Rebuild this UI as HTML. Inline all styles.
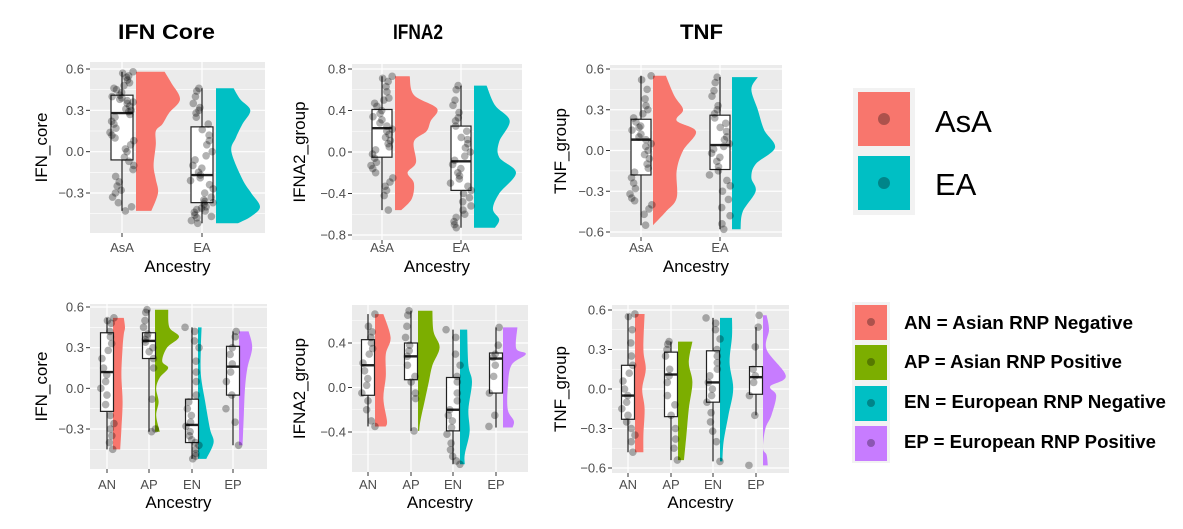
<!DOCTYPE html>
<html><head><meta charset="utf-8"><style>
html,body{margin:0;padding:0;background:#fff;}
svg{display:block;font-family:"Liberation Sans",Arial,sans-serif;}
</style></head><body>
<svg id="fig" width="1183" height="529" viewBox="0 0 1183 529" xmlns="http://www.w3.org/2000/svg">
<g font-weight="bold" font-size="21" fill="#000">
<text x="118" y="39" textLength="97" lengthAdjust="spacingAndGlyphs">IFN Core</text>
<text x="393" y="39" textLength="50" lengthAdjust="spacingAndGlyphs">IFNA2</text>
<text x="680" y="39" textLength="43" lengthAdjust="spacingAndGlyphs">TNF</text>
</g>
<g>
<rect x="853" y="88" width="62" height="127" fill="#F2F2F2"/>
<rect x="858" y="92" width="52" height="54" fill="#F8766D"/>
<circle cx="884" cy="119" r="6" fill="#000" fill-opacity="0.3"/>
<rect x="858" y="156" width="52" height="54" fill="#00BFC4"/>
<circle cx="884" cy="183" r="6" fill="#000" fill-opacity="0.3"/>
<text x="935" y="132" font-size="31">AsA</text>
<text x="935" y="195" font-size="31">EA</text>
</g>
<g font-weight="bold" font-size="18">
<rect x="852" y="302" width="38" height="161" fill="#F2F2F2"/>
<rect x="855" y="305" width="32" height="35" fill="#F8766D"/>
<circle cx="871" cy="322" r="4" fill="#000" fill-opacity="0.3"/>
<rect x="855" y="345" width="32" height="35" fill="#7CAE00"/>
<circle cx="871" cy="362" r="4" fill="#000" fill-opacity="0.3"/>
<rect x="855" y="386" width="32" height="35" fill="#00BFC4"/>
<circle cx="871" cy="403" r="4" fill="#000" fill-opacity="0.3"/>
<rect x="855" y="426" width="32" height="35" fill="#C77CFF"/>
<circle cx="871" cy="443" r="4" fill="#000" fill-opacity="0.3"/>
<text x="904" y="329" textLength="229" lengthAdjust="spacingAndGlyphs">AN = Asian RNP Negative</text>
<text x="904" y="368" textLength="218" lengthAdjust="spacingAndGlyphs">AP = Asian RNP Positive</text>
<text x="904" y="408" textLength="262" lengthAdjust="spacingAndGlyphs">EN = European RNP Negative</text>
<text x="904" y="448" textLength="252" lengthAdjust="spacingAndGlyphs">EP = European RNP Positive</text>
</g>
</svg>
<script>
// ---------- data ----------
const topCats = ["AsA","EA"];
const botCats = ["AN","AP","EN","EP"];
const topColors = ["#F8766D","#00BFC4"];
const botColors = ["#F8766D","#7CAE00","#00BFC4","#C77CFF"];

const ifnTopTicks = [0.6,0.3,0.0,-0.3];
const ifnTopTickLabels = ["0.6","0.3","0.0","\u22120.3"];
const ifnTopBoxes = [[-0.43,-0.06,0.28,0.41,0.58],[-0.52,-0.37,-0.17,0.18,0.46]];
const ifnTopViolinY = [[0.58,0.5,0.38,0.28,0.2,0.15,0.05,-0.1,-0.2,-0.3,-0.43],[0.46,0.38,0.3,0.2,0.1,0.0,-0.2,-0.3,-0.4,-0.47,-0.52]];
const ifnTopViolinW = [[0.65,0.8,1.0,0.75,0.6,0.45,0.45,0.4,0.45,0.5,0.35],[0.4,0.55,0.78,0.6,0.45,0.35,0.6,0.8,1.0,0.8,0.5]];
const ifnTopPoints = [
 [0.58,0.57,0.55,0.54,0.52,0.5,0.48,0.46,0.45,0.43,0.41,0.4,0.39,0.38,0.37,0.36,0.35,0.33,0.31,0.3,0.29,0.27,0.25,0.22,0.2,0.17,0.14,0.12,0.1,0.08,0.05,0.02,0.0,-0.04,-0.07,-0.1,-0.13,-0.18,-0.22,-0.25,-0.28,-0.3,-0.33,-0.37,-0.4,-0.43],
 [0.46,0.44,0.4,0.35,0.32,0.3,0.28,0.25,0.2,0.16,0.12,0.08,0.05,0.0,-0.03,-0.06,-0.1,-0.12,-0.15,-0.17,-0.19,-0.21,-0.24,-0.27,-0.3,-0.33,-0.35,-0.37,-0.38,-0.4,-0.42,-0.44,-0.46,-0.48,-0.5,-0.52,-0.41,-0.36,-0.43,-0.47]];

const ifnaTopTicks = [0.8,0.4,0.0,-0.4,-0.8];
const ifnaTopTickLabels = ["0.8","0.4","0.0","\u22120.4","\u22120.8"];
const ifnaTopBoxes = [[-0.56,-0.05,0.23,0.41,0.73],[-0.73,-0.37,-0.09,0.25,0.64]];
const ifnaTopViolinY = [[0.73,0.55,0.42,0.3,0.2,0.1,-0.1,-0.2,-0.3,-0.45,-0.56],[0.64,0.45,0.3,0.1,-0.05,-0.2,-0.4,-0.55,-0.65,-0.73]];
const ifnaTopViolinW = [[0.35,0.45,1.0,0.85,0.75,0.45,0.5,0.3,0.45,0.4,0.15],[0.3,0.5,0.85,0.6,0.6,1.0,0.6,0.45,0.6,0.5]];
const ifnaTopPoints = [
 [0.73,0.71,0.68,0.63,0.58,0.52,0.5,0.47,0.44,0.4,0.37,0.34,0.31,0.28,0.25,0.22,0.2,0.17,0.14,0.11,0.08,0.05,0.02,-0.02,-0.06,-0.1,-0.13,-0.16,-0.2,-0.25,-0.29,-0.33,-0.37,-0.42,-0.56],
 [0.64,0.6,0.5,0.45,0.38,0.33,0.3,0.25,0.2,0.14,0.12,0.08,0.04,0.0,-0.04,-0.08,-0.12,-0.16,-0.2,-0.23,-0.26,-0.3,-0.33,-0.37,-0.4,-0.44,-0.48,-0.52,-0.56,-0.6,-0.63,-0.67,-0.7,-0.73]];

const tnfTopTicks = [0.6,0.3,0.0,-0.3,-0.6];
const tnfTopTickLabels = ["0.6","0.3","0.0","\u22120.3","\u22120.6"];
const tnfTopBoxes = [[-0.55,-0.18,0.08,0.23,0.55],[-0.58,-0.14,0.04,0.26,0.54]];
const tnfTopViolinY = [[0.55,0.4,0.3,0.22,0.14,0.0,-0.15,-0.35,-0.45,-0.55],[0.54,0.45,0.3,0.15,0.02,-0.1,-0.2,-0.3,-0.45,-0.58]];
const tnfTopViolinW = [[0.3,0.5,0.7,0.55,1.0,0.7,0.55,0.55,0.3,0.0],[0.6,0.45,0.6,0.75,1.0,0.55,0.45,0.55,0.25,0.2]];
const tnfTopPoints = [
 [0.55,0.52,0.45,0.38,0.33,0.3,0.27,0.24,0.21,0.18,0.17,0.15,0.12,0.1,0.08,0.05,0.03,0.0,-0.03,-0.06,-0.1,-0.13,-0.16,-0.2,-0.24,-0.28,-0.32,-0.35,-0.37,-0.4,-0.43,-0.47,-0.55],
 [0.54,0.5,0.44,0.4,0.33,0.3,0.27,0.24,0.2,0.17,0.14,0.1,0.08,0.05,0.03,0.01,-0.02,-0.05,-0.08,-0.12,-0.15,-0.18,-0.22,-0.26,-0.3,-0.36,-0.42,-0.48,-0.54,-0.58]];

const ifnBotTicks = [0.6,0.3,0.0,-0.3];
const ifnBotTickLabels = ["0.6","0.3","0.0","\u22120.3"];
const ifnBotBoxes = [[-0.45,-0.17,0.12,0.41,0.52],[-0.32,0.22,0.35,0.41,0.58],[-0.52,-0.4,-0.27,-0.08,0.45],[-0.42,-0.05,0.16,0.31,0.42]];
const ifnBotViolinY = [[0.52,0.45,0.4,0.3,0.1,-0.1,-0.3,-0.45],[0.58,0.45,0.38,0.3,0.2,0.15,0.08,0.0,-0.1,-0.2,-0.32],[0.45,0.3,0.1,-0.1,-0.3,-0.4,-0.52],[0.42,0.3,0.15,0.0,-0.2,-0.42]];
const ifnBotViolinW = [[0.45,0.5,0.45,0.4,0.35,0.4,0.35,0.3],[0.55,0.6,1.0,0.5,0.3,0.55,0.2,0.05,0.15,0.05,0.2],[0.15,0.12,0.12,0.3,0.5,0.65,0.35],[0.4,0.55,0.35,0.25,0.2,0.15]];
const ifnBotPoints = [
 [0.52,0.5,0.48,0.42,0.38,0.33,0.28,0.22,0.15,0.1,0.05,0.0,-0.05,-0.12,-0.2,-0.26,-0.3,-0.35,-0.4,-0.45],
 [0.58,0.56,0.5,0.45,0.4,0.38,0.36,0.34,0.3,0.27,0.22,0.15,-0.08,-0.3,-0.32],
 [0.45,0.42,0.35,0.3,0.2,0.12,0.05,-0.05,-0.1,-0.15,-0.2,-0.25,-0.28,-0.32,-0.35,-0.38,-0.4,-0.42,-0.45,-0.48,-0.5,-0.52],
 [0.42,0.38,0.3,0.25,0.18,0.12,0.05,-0.05,-0.15,-0.25,-0.42]];

const ifnaBotTicks = [0.4,0.0,-0.4];
const ifnaBotTickLabels = ["0.4","0.0","\u22120.4"];
const ifnaBotBoxes = [[-0.35,-0.07,0.2,0.43,0.66],[-0.39,0.07,0.28,0.4,0.69],[-0.69,-0.39,-0.2,0.09,0.52],[-0.36,-0.05,0.26,0.31,0.54]];
const ifnaBotViolinY = [[0.66,0.45,0.3,0.1,-0.1,-0.3,-0.35],[0.69,0.5,0.36,0.2,0.05,-0.1,-0.3,-0.39],[0.52,0.2,0.05,-0.2,-0.4,-0.6,-0.69],[0.54,0.35,0.3,0.2,0.0,-0.2,-0.3,-0.36]];
const ifnaBotViolinW = [[0.35,0.65,0.45,0.45,0.35,0.5,0.45],[0.6,0.65,0.9,0.6,0.45,0.3,0.1,0.05],[0.3,0.35,0.5,0.35,0.4,0.2,0.2],[0.6,0.55,0.95,0.35,0.2,0.2,0.45,0.4]];
const ifnaBotPoints = [
 [0.66,0.55,0.5,0.45,0.4,0.35,0.3,0.22,0.15,0.08,0.02,-0.05,-0.12,-0.2,-0.3,-0.35],
 [0.69,0.65,0.55,0.45,0.38,0.33,0.28,0.2,0.1,0.05,-0.05,-0.1,-0.39],
 [0.52,0.45,0.3,0.2,0.1,0.05,-0.05,-0.12,-0.2,-0.25,-0.3,-0.36,-0.42,-0.5,-0.56,-0.62,-0.66,-0.69],
 [0.54,0.38,0.3,0.27,0.2,0.1,-0.05,-0.25,-0.35]];

const tnfBotTicks = [0.6,0.3,0.0,-0.3,-0.6];
const tnfBotTickLabels = ["0.6","0.3","0.0","\u22120.3","\u22120.6"];
const tnfBotBoxes = [[-0.48,-0.23,-0.05,0.18,0.57],[-0.54,-0.21,0.11,0.28,0.36],[-0.55,-0.1,0.05,0.29,0.54],[-0.2,-0.04,0.09,0.17,0.47]];
const tnfBotViolinY = [[0.57,0.3,0.15,0.0,-0.15,-0.35,-0.48],[0.36,0.2,0.05,-0.15,-0.35,-0.54],[0.54,0.4,0.2,0.0,-0.2,-0.4,-0.55],[0.56,0.45,0.3,0.1,0.02,-0.05,-0.2,-0.3,-0.45,-0.5,-0.58]];
const tnfBotViolinW = [[0.4,0.35,0.45,0.3,0.4,0.35,0.35],[0.6,0.45,0.6,0.45,0.35,0.25],[0.5,0.5,0.4,0.55,0.35,0.15,0.1],[0.15,0.25,0.15,0.95,0.3,0.55,0.35,0.1,0.0,0.15,0.2]];
const tnfBotPoints = [
 [0.57,0.55,0.45,0.35,0.25,0.18,0.12,0.06,0.0,-0.05,-0.1,-0.15,-0.2,-0.25,-0.3,-0.35,-0.4,-0.48],
 [0.36,0.34,0.3,0.25,0.15,0.1,0.05,-0.05,-0.12,-0.2,-0.3,-0.38,-0.45,-0.54],
 [0.54,0.5,0.45,0.38,0.3,0.25,0.2,0.15,0.1,0.05,0.0,-0.05,-0.1,-0.18,-0.25,-0.32,-0.4,-0.55],
 [0.56,0.47,0.32,0.15,0.1,0.05,-0.05,-0.2,-0.58]];

// ---------- layout (not data) ----------
const SVGNS = "http://www.w3.org/2000/svg";
const fig = document.getElementById('fig');
const panels = [
 {id:"ifn-core-top", ytitle:"IFN_core", cats:topCats, colors:topColors, ticks:ifnTopTicks, tl:ifnTopTickLabels, boxes:ifnTopBoxes, vy:ifnTopViolinY, vw:ifnTopViolinW, pts:ifnTopPoints,
  x0:90,x1:265,y0:62,y1:233, v1:0.6,p1:69, v2:-0.3,p2:193, catX:[122,202], boxHW:11, vOff:14, vMax:44, tickY:252, titleY:272, ytX:47},
 {id:"ifna2-top", ytitle:"IFNA2_group", cats:topCats, colors:topColors, ticks:ifnaTopTicks, tl:ifnaTopTickLabels, boxes:ifnaTopBoxes, vy:ifnaTopViolinY, vw:ifnaTopViolinW, pts:ifnaTopPoints,
  x0:352,x1:522,y0:64,y1:240, v1:0.8,p1:69, v2:-0.8,p2:235, catX:[382,461], boxHW:10, vOff:13, vMax:42, tickY:252, titleY:272, ytX:305},
 {id:"tnf-top", ytitle:"TNF_group", cats:topCats, colors:topColors, ticks:tnfTopTicks, tl:tnfTopTickLabels, boxes:tnfTopBoxes, vy:tnfTopViolinY, vw:tnfTopViolinW, pts:tnfTopPoints,
  x0:610,x1:782,y0:65,y1:237, v1:0.6,p1:69, v2:-0.6,p2:232, catX:[641,720], boxHW:10, vOff:12, vMax:43, tickY:252, titleY:272, ytX:566},
 {id:"ifn-core-bottom", ytitle:"IFN_core", cats:botCats, colors:botColors, ticks:ifnBotTicks, tl:ifnBotTickLabels, boxes:ifnBotBoxes, vy:ifnBotViolinY, vw:ifnBotViolinW, pts:ifnBotPoints,
  x0:90,x1:267,y0:304,y1:469, v1:0.6,p1:307, v2:-0.3,p2:429, catX:[107,149,192,233], boxHW:6.5, vOff:6, vMax:24, tickY:489, titleY:508, ytX:47},
 {id:"ifna2-bottom", ytitle:"IFNA2_group", cats:botCats, colors:botColors, ticks:ifnaBotTicks, tl:ifnaBotTickLabels, boxes:ifnaBotBoxes, vy:ifnaBotViolinY, vw:ifnaBotViolinW, pts:ifnaBotPoints,
  x0:352,x1:528,y0:305,y1:472, v1:0.4,p1:343, v2:-0.4,p2:432, catX:[368,411,453,496], boxHW:6.5, vOff:7, vMax:24, tickY:489, titleY:508, ytX:305},
 {id:"tnf-bottom", ytitle:"TNF_group", cats:botCats, colors:botColors, ticks:tnfBotTicks, tl:tnfBotTickLabels, boxes:tnfBotBoxes, vy:tnfBotViolinY, vw:tnfBotViolinW, pts:tnfBotPoints,
  x0:612,x1:789,y0:305,y1:473, v1:0.6,p1:310, v2:-0.6,p2:468, catX:[628,671,713,756], boxHW:6.5, vOff:7, vMax:24, tickY:489, titleY:508, ytX:566}
];

function mk(tag, attrs, parent){
  const e = document.createElementNS(SVGNS, tag);
  for (const k in attrs) e.setAttribute(k, attrs[k]);
  parent.appendChild(e);
  return e;
}

function smoothPath(pts){
  // Catmull-Rom to cubic bezier through pts [[x,y],...]
  let d = '';
  for (let i = 0; i < pts.length - 1; i++) {
    const p0 = pts[Math.max(0, i-1)], p1 = pts[i], p2 = pts[i+1], p3 = pts[Math.min(pts.length-1, i+2)];
    const c1x = p1[0] + (p2[0]-p0[0])/6, c1y = p1[1] + (p2[1]-p0[1])/6;
    const c2x = p2[0] - (p3[0]-p1[0])/6, c2y = p2[1] - (p3[1]-p1[1])/6;
    d += ' C' + c1x.toFixed(2) + ',' + c1y.toFixed(2) + ' ' + c2x.toFixed(2) + ',' + c2y.toFixed(2) + ' ' + p2[0].toFixed(2) + ',' + p2[1].toFixed(2);
  }
  return d;
}

panels.forEach(function(P){
  const yScale = v => P.p1 + (v - P.v1) * (P.p2 - P.p1) / (P.v2 - P.v1);
  const g = mk('g', {}, fig);
  
  
  const bg = mk('rect', {x:P.x0, y:P.y0, width:P.x1-P.x0, height:P.y1-P.y0, fill:'#EBEBEB'}, g);
  
  
  const step = P.ticks[0] - P.ticks[1];
  const minors = [];
  for (let i = 0; i < P.ticks.length - 1; i++) minors.push((P.ticks[i] + P.ticks[i+1]) / 2);
  minors.push(P.ticks[0] + step/2, P.ticks[P.ticks.length-1] - step/2);
  minors.forEach(function(v){
    const yv = yScale(v);
    if (yv > P.y0 && yv < P.y1) {
      const l = mk('line', {x1:P.x0, x2:P.x1, y1:yv, y2:yv, stroke:'#fff', 'stroke-width':0.6}, g);
      
      
    }
  });
  P.ticks.forEach(function(t, i){
    const yv = yScale(t);
    const l = mk('line', {x1:P.x0, x2:P.x1, y1:yv, y2:yv, stroke:'#fff', 'stroke-width':1.2}, g);
    
    
    const tk = mk('line', {x1:P.x0-4, x2:P.x0, y1:yv, y2:yv, stroke:'#333', 'stroke-width':1}, g);
    
    
    const tx = mk('text', {x:P.x0-6, y:yv+4.5, 'text-anchor':'end', 'font-size':13, fill:'#4D4D4D'}, g);
    tx.textContent = P.tl[i];
    
    
  });
  P.cats.forEach(function(c, ci){
    const cx = P.catX[ci];
    const l = mk('line', {x1:cx, x2:cx, y1:P.y0, y2:P.y1, stroke:'#fff', 'stroke-width':1.2}, g);
    
    
    const tk = mk('line', {x1:cx, x2:cx, y1:P.y1, y2:P.y1+4, stroke:'#333', 'stroke-width':1}, g);
    
    
    const tx = mk('text', {x:cx, y:P.tickY, 'text-anchor':'middle', 'font-size':13, fill:'#4D4D4D'}, g);
    tx.textContent = c;
    
    
    const vy = P.vy[ci], vw = P.vw[ci];
    const bx = cx + P.vOff;
    const pts = vy.map((v, k) => [bx + vw[k]*P.vMax, yScale(v)]);
    let d = 'M' + bx + ',' + pts[0][1].toFixed(2) + ' L' + pts[0][0].toFixed(2) + ',' + pts[0][1].toFixed(2);
    d += smoothPath(pts);
    d += ' L' + bx + ',' + pts[pts.length-1][1].toFixed(2) + ' Z';
    const vp = mk('path', {d:d, fill:P.colors[ci]}, g);
    
    
    const b = P.boxes[ci];
    const wl = mk('line', {x1:cx, x2:cx, y1:yScale(b[0]), y2:yScale(b[4]), stroke:'#222', 'stroke-width':1.2}, g);
    
    
    const br = mk('rect', {x:cx-P.boxHW, y:yScale(b[3]), width:2*P.boxHW, height:yScale(b[1])-yScale(b[3]), fill:'#fff', stroke:'#222', 'stroke-width':1.2}, g);
    
    
    const md = mk('line', {x1:cx-P.boxHW, x2:cx+P.boxHW, y1:yScale(b[2]), y2:yScale(b[2]), stroke:'#222', 'stroke-width':2.4}, g);
    
    
    P.pts[ci].forEach(function(v, k){
      const jit = (Math.sin((k+1)*12.9898 + ci*78.233) * 43758.5453) % 1;
      const px = cx + jit * (P.boxHW + 1);
      const pc = mk('circle', {cx:px, cy:yScale(v), r:3.8, fill:'#000', 'fill-opacity':0.3}, g);
      
      
    });
  });
  const xt = mk('text', {x:(P.x0+P.x1)/2, y:P.titleY, 'text-anchor':'middle', 'font-size':17, fill:'#000'}, g);
  xt.textContent = 'Ancestry';
  
  
  const cy = (P.y0+P.y1)/2;
  const yt = mk('text', {x:P.ytX, y:cy, 'text-anchor':'middle', 'font-size':17, fill:'#000', transform:'rotate(-90 ' + P.ytX + ' ' + cy + ')'}, g);
  yt.textContent = P.ytitle;
  
  
});
</script>
</body></html>
